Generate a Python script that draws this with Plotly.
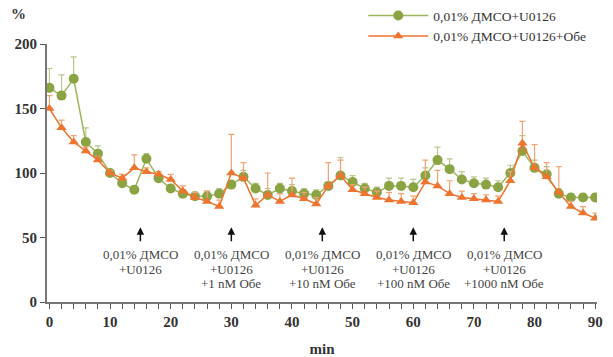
import plotly.graph_objects as go

# Time points, min
minutes = list(range(0, 92, 2))

# 0,01% ДМСО+U0126
ctrl_mean = [166, 160, 173, 124, 115, 100, 92, 87, 111, 96,
             88, 84, 82, 82, 84, 91, 97, 88, 83, 88,
             86, 84, 83, 90, 98, 93, 88, 85, 90, 90,
             89, 98, 110, 103, 95, 92, 91, 89, 100, 117,
             104, 99, 84, 81, 81, 81]
ctrl_err = [15, 16, 17, 11, 6, 2, 3, 3, 4, 3,
            3, 3, 3, 4, 4, 3, 5, 4, 5, 4,
            5, 4, 4, 3, 14, 5, 4, 4, 6, 6,
            6, 6, 10, 8, 6, 5, 5, 5, 6, 12,
            6, 6, 4, 3, 3, 3]

# 0,01% ДМСО+U0126+Обе
obe_mean = [150, 135, 124, 117, 110, 100, 96, 104, 101, 99,
            95, 86, 81, 78, 74, 100, 96, 75, 83, 78,
            83, 80, 76, 90, 98, 87, 84, 81, 79, 78,
            77, 93, 90, 84, 81, 80, 79, 78, 94, 123,
            104, 97, 85, 74, 69, 65]
obe_err = [10, 6, 5, 3, 3, 2, 3, 10, 3, 2,
           4, 4, 4, 8, 5, 30, 12, 5, 17, 6,
           13, 5, 5, 18, 12, 4, 5, 5, 6, 6,
           5, 17, 12, 10, 5, 4, 4, 4, 7, 17,
           18, 11, 20, 4, 5, 4]

# Treatment marks: time and label lines
event_times = [15, 30, 45, 60, 75]
event_labels = [
    ["0,01% ДМСО", "+U0126"],
    ["0,01% ДМСО", "+U0126", "+1 nM Обе"],
    ["0,01% ДМСО", "+U0126", "+10 nM Обе"],
    ["0,01% ДМСО", "+U0126", "+100 nM Обе"],
    ["0,01% ДМСО", "+U0126", "+1000 nM Обе"],
]
# y value of each label line
label_line_y = [36.5, 25.5, 14.2]

x_labels = [str(m) if m % 10 == 0 else "" for m in minutes]

GREEN = "#8aa444"
GREEN_LINE = "#9cb65a"
GREEN_ERR = "#b9c68c"
ORANGE = "#ee7430"
ORANGE_ERR = "#f2a273"
SERIF = "Liberation Serif"

fig = go.Figure()

fig.add_trace(go.Scatter(
    x=minutes, y=ctrl_mean, name="0,01% ДМСО+U0126",
    mode="lines+markers",
    line=dict(color=GREEN_LINE, width=1.5),
    marker=dict(symbol="circle", size=10, color=GREEN),
    error_y=dict(type="data", symmetric=False, array=ctrl_err,
                 arrayminus=[0] * len(ctrl_err),
                 color=GREEN_ERR, thickness=1.2, width=3),
))

fig.add_trace(go.Scatter(
    x=minutes, y=obe_mean, name="0,01% ДМСО+U0126+Обе",
    mode="lines+markers",
    line=dict(color=ORANGE, width=1.5),
    marker=dict(symbol="triangle-up", size=9, color=ORANGE),
    error_y=dict(type="data", symmetric=False, array=obe_err,
                 arrayminus=[0] * len(obe_err),
                 color=ORANGE_ERR, thickness=1.2, width=3),
))

# Arrows marking each addition, with text lines below
for t, lines in zip(event_times, event_labels):
    fig.add_annotation(
        x=t, y=58, ax=t, ay=46, xref="x", yref="y", axref="x", ayref="y",
        showarrow=True, arrowhead=2, arrowsize=1, arrowwidth=1.5,
        arrowcolor="#111111", text="",
    )
    for ly, txt in zip(label_line_y, lines):
        fig.add_annotation(
            x=t, y=ly, xref="x", yref="y", text=txt, showarrow=False,
            yanchor="middle", xanchor="center",
            font=dict(family=SERIF, size=13, color="#444444"),
        )

fig.add_annotation(
    x=0, y=1.0, xref="paper", yref="paper", xshift=-38, yshift=20,
    text="<b>%</b>", showarrow=False, xanchor="left", yanchor="bottom",
    font=dict(family=SERIF, size=15, color="#333333"),
)

fig.update_layout(
    width=613, height=357,
    margin=dict(l=47, r=16, t=44, b=55, autoexpand=False),
    paper_bgcolor="white", plot_bgcolor="white",
    font=dict(family=SERIF, color="#333333"),
    showlegend=True,
    legend=dict(
        x=0.575, y=1.17, xref="paper", yref="paper",
        xanchor="left", yanchor="top",
        font=dict(family=SERIF, size=13.5, color="#333333"),
        bgcolor="rgba(0,0,0,0)", itemwidth=60, tracegroupgap=0,
    ),
    xaxis=dict(
        range=[-0.4, 90.3], tickvals=minutes, ticktext=x_labels,
        ticks="outside", ticklen=5, tickwidth=1, tickcolor="#555555",
        showline=True, linecolor="#777777", linewidth=2,
        showgrid=False, zeroline=False,
        tickfont=dict(family=SERIF, size=15, color="#333333", weight="bold"),
        title=dict(text="<b>min</b>", standoff=16,
                   font=dict(family=SERIF, size=15, color="#333333")),
    ),
    yaxis=dict(
        range=[0, 200], tickvals=[0, 50, 100, 150, 200],
        ticks="outside", ticklen=5, tickwidth=1, tickcolor="#555555",
        showline=True, linecolor="#777777", linewidth=2,
        showgrid=False, zeroline=False,
        tickfont=dict(family=SERIF, size=15, color="#333333", weight="bold"),
    ),
)

fig.write_html("out.html")
